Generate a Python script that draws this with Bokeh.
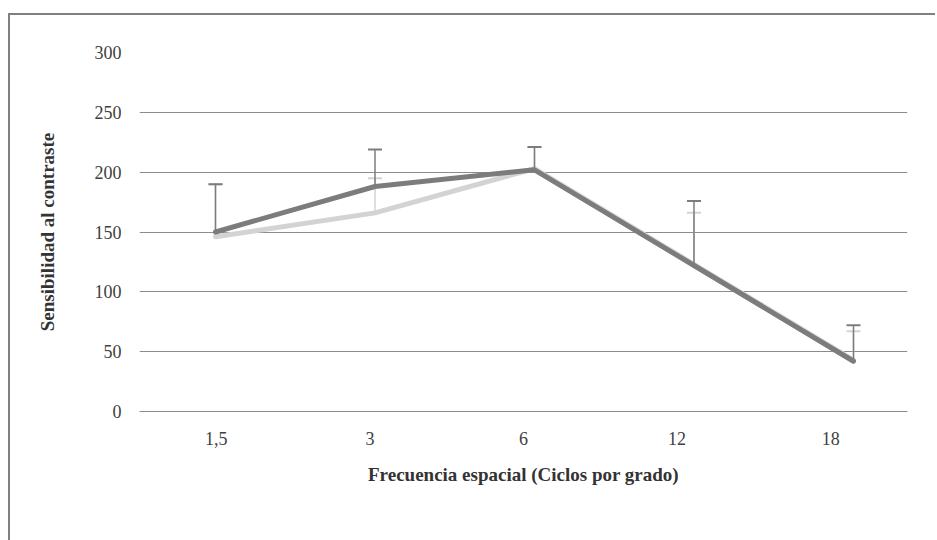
from bokeh.plotting import figure
from bokeh.models import Range1d, Legend, LegendItem, FixedTicker
from bokeh.embed import file_html
from bokeh.resources import INLINE

# ---- data ----
categories = ["1,5", "3", "6", "12", "18"]
energys = [146, 166, 203, 123, 43]
energys_upper = [190, 195, 221, 166, 67]
biofinity = [150, 188, 202, 122, 42]
biofinity_upper = [190, 219, 221, 176, 72]
y_ticks = [0, 50, 100, 150, 200, 250, 300]
series_names = ["LC Biofinity Energys\u2122", "LC Biofinity\u00ae"]

FONT = "Liberation Serif"
TXT = "#404040"
GRID = "#8c8c8c"
LIGHT = "#d3d3d3"
DARK = "#7c7c7c"

n = len(categories)
# axis scale: one slot per category, labels at slot centres
p = figure(
    x_range=Range1d(0, n),
    y_range=Range1d(0, 300),
    frame_width=768, frame_height=359,
    output_backend="svg", toolbar_location=None,
    min_border_left=129, min_border_right=28,
    min_border_top=37, min_border_bottom=0,
)
p.styles = {"border-top": "2px solid #808080", "border-left": "2px solid #808080",
            "margin-left": "8px", "margin-top": "13px"}
# the data points sit on their own evenly spaced index scale
p.extra_x_ranges = {"pts": Range1d(-0.4765, 4.3386)}
p.outline_line_color = None
p.background_fill_color = "white"
p.border_fill_color = "white"

idx = list(range(n))

r_light = p.line(idx, energys, x_range_name="pts", line_width=5, line_color=LIGHT,
                 line_join="round", line_cap="round")
p.segment(x0=idx, y0=energys, x1=idx, y1=energys_upper, x_range_name="pts",
          line_color=LIGHT, line_width=1.5)
p.scatter(idx, energys_upper, marker="dash", size=14, line_color=LIGHT, line_width=2,
          x_range_name="pts")

r_dark = p.line(idx, biofinity, x_range_name="pts", line_width=5, line_color=DARK,
                line_join="round", line_cap="round")
p.segment(x0=idx, y0=biofinity, x1=idx, y1=biofinity_upper, x_range_name="pts",
          line_color=DARK, line_width=1.5)
p.scatter(idx, biofinity_upper, marker="dash", size=14, line_color=DARK, line_width=2,
          x_range_name="pts")

# axes
centres = [i + 0.5 for i in range(n)]
p.xaxis.ticker = FixedTicker(ticks=centres)
p.xaxis.major_label_overrides = {c: lab for c, lab in zip(centres, categories)}
p.yaxis.ticker = FixedTicker(ticks=y_ticks)
p.ygrid.ticker = FixedTicker(ticks=y_ticks)
p.ygrid.grid_line_color = GRID
p.xgrid.grid_line_color = None

for ax in (p.xaxis[0], p.yaxis[0]):
    ax.major_tick_line_color = None
    ax.minor_tick_line_color = None
    ax.major_tick_out = 0
    ax.major_tick_in = 0
    ax.major_label_text_font = FONT
    ax.major_label_text_font_size = "18px"
    ax.major_label_text_color = TXT
    ax.axis_label_text_font = FONT
    ax.axis_label_text_font_style = "bold"
    ax.axis_label_text_font_size = "19px"
    ax.axis_label_text_color = "#333333"

p.yaxis.axis_line_color = None
p.yaxis.major_label_standoff = 18
p.yaxis.axis_label = "Sensibilidad al contraste"
p.yaxis.axis_label_standoff = 34

p.xaxis.axis_line_color = GRID
p.xaxis.major_label_standoff = 20
p.xaxis.axis_label = "Frecuencia espacial (Ciclos por grado)"
p.xaxis.axis_label_standoff = 16

legend = Legend(
    items=[LegendItem(label=series_names[0], renderers=[r_light]),
           LegendItem(label=series_names[1], renderers=[r_dark])],
    orientation="horizontal", location="top_center",
    glyph_width=58, label_standoff=14, spacing=65, margin=10, padding=8,
    border_line_color=None, background_fill_alpha=0,
    label_text_font=FONT, label_text_font_size="19px", label_text_color=TXT,
)
p.add_layout(legend, "below")

open("out.html", "w").write(file_html(p, INLINE))
